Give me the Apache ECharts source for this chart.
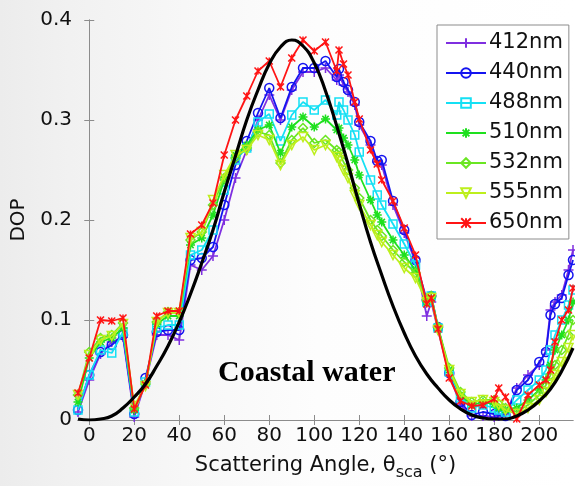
<!DOCTYPE html>
<html>
<head>
<meta charset="utf-8">
<script src="https://cdn.jsdelivr.net/npm/echarts@6/dist/echarts.min.js"></script>
<style>
  html, body { margin: 0; padding: 0; }
  #chart {
    width: 575px; height: 486px;
    background: linear-gradient(90deg, #ececec 0%, #f1f1f1 12%, #f7f7f7 32%, #fdfdfd 55%, #ffffff 100%);
  }
</style>
</head>
<body>
<div id="chart"></div>
<script>
// Scattering angles (degrees) of the measured DOP samples
const angles = [-5, 0, 5, 10, 15, 20, 25, 30, 35, 40, 45, 50, 55, 60, 65, 70, 75, 80, 85, 90,
  95, 100, 105, 110, 111, 113, 115, 118, 120, 125, 128, 130, 135, 140, 145, 150, 152, 155, 160,
  165, 170, 175, 180, 182, 185, 190, 195, 200, 203, 205, 207, 210, 213, 215];

// Measured degree of polarization per wavelength
const dop412 = [0.008, 0.040, 0.066, 0.078, 0.083, 0.003, 0.038, 0.085, 0.085, 0.080, 0.155, 0.150, 0.164, 0.200, 0.242, 0.270, 0.300, 0.325, 0.300, 0.330,
  0.348, 0.348, 0.352, 0.340, 0.345, 0.335, 0.328, 0.315, 0.295, 0.275, 0.258, 0.255, 0.215, 0.187, 0.158, 0.104, 0.118, 0.090, 0.045,
  0.015, 0.004, 0.004, 0.003, 0.004, 0.006, 0.032, 0.045, 0.055, 0.070, 0.110, 0.118, 0.125, 0.150, 0.170];
const dop440 = [0.010, 0.045, 0.068, 0.075, 0.085, 0.006, 0.042, 0.088, 0.090, 0.090, 0.160, 0.162, 0.173, 0.215, 0.255, 0.279, 0.307, 0.332, 0.302, 0.333,
  0.352, 0.352, 0.359, 0.343, 0.351, 0.338, 0.330, 0.318, 0.298, 0.279, 0.259, 0.260, 0.219, 0.190, 0.160, 0.120, 0.124, 0.093, 0.047,
  0.018, 0.005, 0.008, 0.006, 0.005, 0.004, 0.030, 0.040, 0.058, 0.068, 0.105, 0.116, 0.122, 0.145, 0.160];
const dop488 = [0.010, 0.045, 0.070, 0.067, 0.088, 0.008, 0.038, 0.092, 0.095, 0.095, 0.165, 0.170, 0.190, 0.230, 0.260, 0.272, 0.298, 0.306, 0.279, 0.305,
  0.318, 0.310, 0.320, 0.305, 0.318, 0.310, 0.300, 0.285, 0.268, 0.240, 0.225, 0.215, 0.196, 0.176, 0.155, 0.118, 0.124, 0.092, 0.048,
  0.022, 0.012, 0.015, 0.012, 0.010, 0.008, 0.020, 0.030, 0.040, 0.050, 0.070, 0.085, 0.100, 0.115, 0.130];
const dop510 = [0.018, 0.062, 0.078, 0.082, 0.092, 0.010, 0.036, 0.096, 0.104, 0.104, 0.175, 0.182, 0.205, 0.240, 0.265, 0.275, 0.290, 0.295, 0.267, 0.293,
  0.303, 0.293, 0.301, 0.290, 0.292, 0.282, 0.275, 0.260, 0.245, 0.220, 0.205, 0.198, 0.180, 0.165, 0.150, 0.118, 0.122, 0.092, 0.050,
  0.025, 0.015, 0.018, 0.016, 0.012, 0.010, 0.012, 0.020, 0.030, 0.040, 0.055, 0.070, 0.085, 0.100, 0.118];
const dop532 = [0.025, 0.068, 0.082, 0.085, 0.097, 0.012, 0.036, 0.098, 0.108, 0.108, 0.180, 0.188, 0.215, 0.242, 0.262, 0.272, 0.288, 0.285, 0.257, 0.280,
  0.292, 0.277, 0.280, 0.270, 0.268, 0.258, 0.250, 0.232, 0.222, 0.200, 0.190, 0.184, 0.170, 0.158, 0.147, 0.120, 0.124, 0.093, 0.052,
  0.028, 0.018, 0.020, 0.020, 0.016, 0.012, 0.008, 0.015, 0.025, 0.035, 0.045, 0.055, 0.070, 0.085, 0.100];
const dop555 = [0.025, 0.065, 0.080, 0.084, 0.096, 0.014, 0.034, 0.098, 0.107, 0.107, 0.182, 0.188, 0.220, 0.245, 0.265, 0.270, 0.285, 0.280, 0.255, 0.275,
  0.283, 0.270, 0.275, 0.263, 0.260, 0.250, 0.242, 0.225, 0.215, 0.195, 0.185, 0.178, 0.165, 0.152, 0.142, 0.118, 0.122, 0.090, 0.050,
  0.026, 0.018, 0.020, 0.018, 0.015, 0.010, 0.006, 0.012, 0.020, 0.028, 0.036, 0.045, 0.058, 0.072, 0.085];
const dop650 = [0.027, 0.062, 0.100, 0.099, 0.102, 0.011, 0.035, 0.104, 0.109, 0.109, 0.186, 0.195, 0.217, 0.265, 0.300, 0.324, 0.349, 0.359, 0.333, 0.362,
  0.380, 0.369, 0.378, 0.349, 0.370, 0.356, 0.345, 0.318, 0.301, 0.270, 0.256, 0.240, 0.219, 0.192, 0.165, 0.116, 0.122, 0.091, 0.042,
  0.019, 0.014, 0.015, 0.021, 0.032, 0.023, 0.001, 0.025, 0.035, 0.040, 0.050, 0.078, 0.100, 0.110, 0.132];

// Modelled DOP curve
const modelAngles = [-5, 0, 5, 10, 15, 20, 25, 30, 35, 40, 45, 50, 55, 60, 65, 70, 75, 80, 85, 90, 95, 100, 105,
  110, 115, 120, 125, 130, 135, 140, 145, 150, 155, 160, 165, 170, 175, 180, 185, 190, 195, 200, 205, 210, 215];
const modelDop = [0.001, 0.000, 0.001, 0.004, 0.012, 0.023, 0.036, 0.054, 0.074, 0.098, 0.126, 0.157, 0.190, 0.228, 0.264, 0.300, 0.330, 0.356, 0.373, 0.380, 0.374, 0.357, 0.329,
  0.294, 0.256, 0.216, 0.178, 0.145, 0.114, 0.087, 0.064, 0.046, 0.032, 0.020, 0.011, 0.005, 0.002, 0.001, 0.001, 0.004, 0.010, 0.019, 0.031, 0.049, 0.072];

// Axis tick values
const xTicks = [0, 20, 40, 60, 80, 100, 120, 140, 160, 180, 200];
const yTicks = [0, 0.1, 0.2, 0.3, 0.4];

const wavelengths = ['412nm', '440nm', '488nm', '510nm', '532nm', '555nm', '650nm'];
const measured = [dop412, dop440, dop488, dop510, dop532, dop555, dop650];
const colors = ['#7f2fe0', '#1414f0', '#14e0f4', '#1ee01e', '#6ae622', '#bdef1c', '#ff1414'];
const symbols = [
  'path://M-1,0L1,0M0,-1L0,1',
  'circle',
  'rect',
  'path://M-1,0L1,0M0,-1L0,1M-0.7,-0.7L0.7,0.7M-0.7,0.7L0.7,-0.7',
  'diamond',
  'path://M-1,-0.85L1,-0.85L0,0.9Z',
  'path://M-1,-1L1,1M-1,1L1,-1M0,-1L0,1'
];
const symbolSizes = [10, 9, 8, 9, 9, 9, 7];

const axisGray = '#8c8c8c';
const font = 'DejaVu Sans';

const series = wavelengths.map((name, k) => ({
  name: name,
  type: 'line',
  data: angles.map((a, i) => [a, measured[k][i]]),
  symbol: symbols[k],
  symbolSize: symbolSizes[k],
  showAllSymbol: true,
  lineStyle: { color: colors[k], width: 1.8 },
  itemStyle: { color: 'rgba(255,255,255,0)', borderColor: colors[k], borderWidth: 1.5 },
  emphasis: { disabled: true },
  z: 2 + k
}));

series.push({
  name: 'model',
  type: 'line',
  data: modelAngles.map((a, i) => [a, modelDop[i]]),
  smooth: true,
  showSymbol: false,
  lineStyle: { color: '#000', width: 3.2 },
  emphasis: { disabled: true },
  z: 20
});

const chart = echarts.init(document.getElementById('chart'), null, { renderer: 'canvas' });
chart.setOption({
  animation: false,
  backgroundColor: 'transparent',
  grid: { left: 78, top: 20, right: 2, bottom: 60 },
  xAxis: [{
    type: 'value', min: -5, max: 215,
    axisLine: { show: true, lineStyle: { color: axisGray } },
    axisTick: { show: true, inside: true, length: 5, lineStyle: { color: axisGray }, customValues: xTicks },
    axisLabel: { color: '#111', fontFamily: font, fontSize: 20, margin: 6, customValues: xTicks },
    splitLine: { show: false },
    name: 'Scattering Angle, θ{sub|sca} (°)',
    nameLocation: 'middle',
    nameGap: 30,
    nameTextStyle: {
      color: '#111', fontFamily: font, fontSize: 21, verticalAlign: 'top',
      rich: { sub: { fontFamily: font, fontSize: 16, color: '#111', padding: [15, 0, 0, 0] } }
    }
  }, {
    type: 'value', min: -5, max: 215, position: 'top',
    axisLine: { show: true, lineStyle: { color: axisGray } },
    axisTick: { show: true, inside: true, length: 5, lineStyle: { color: axisGray }, customValues: xTicks },
    axisLabel: { show: false },
    splitLine: { show: false }
  }],
  yAxis: [{
    type: 'value', min: 0, max: 0.4, interval: 0.1,
    axisLine: { show: true, lineStyle: { color: axisGray } },
    axisTick: { show: true, inside: true, length: 5, lineStyle: { color: axisGray }, customValues: yTicks },
    axisLabel: { color: '#111', fontFamily: font, fontSize: 20, margin: 6, customValues: yTicks },
    splitLine: { show: false },
    name: 'DOP',
    nameLocation: 'middle',
    nameRotate: 90,
    nameGap: 45,
    nameTextStyle: { color: '#111', fontFamily: font, fontSize: 20 }
  }, {
    type: 'value', min: 0, max: 0.4, interval: 0.1, position: 'right',
    axisLine: { show: true, lineStyle: { color: axisGray } },
    axisTick: { show: true, inside: true, length: 5, lineStyle: { color: axisGray }, customValues: yTicks },
    axisLabel: { show: false },
    splitLine: { show: false }
  }],
  legend: {
    data: wavelengths,
    orient: 'vertical',
    left: 437, top: 25,
    padding: [7, 6, 5, 8],
    itemWidth: 40, itemHeight: 12, itemGap: 8,
    backgroundColor: '#ffffff',
    borderColor: '#8c8c8c', borderWidth: 1, borderRadius: 0,
    selectedMode: false,
    textStyle: { color: '#111', fontFamily: font, fontSize: 21, lineHeight: 22, padding: [0, 0, 0, -2] }
  },
  graphic: [{
    type: 'text',
    left: 218, top: 358,
    z: 30,
    style: { text: 'Coastal water', font: 'bold 30px "Liberation Serif", "Times New Roman", serif', fill: '#000' }
  }],
  series: series
});
</script>
</body>
</html>
